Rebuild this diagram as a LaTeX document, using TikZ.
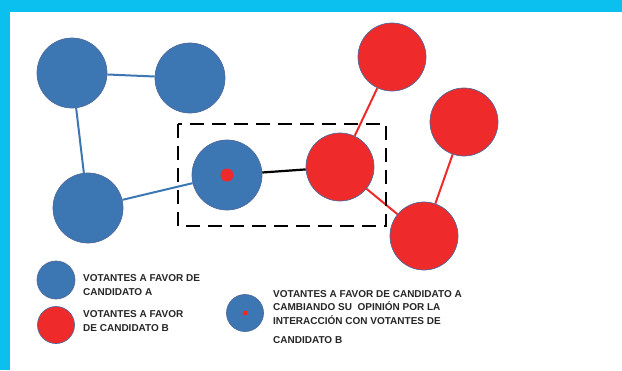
\documentclass[tikz,border=0pt]{standalone}
\usepackage{fontspec}
\setmainfont{Liberation Sans}
\usetikzlibrary{backgrounds}
\definecolor{cyanband}{HTML}{0BBFEF}
\definecolor{votblue}{HTML}{3C77B3}
\definecolor{votred}{HTML}{EE2A2A}
\definecolor{rim}{HTML}{4F6A9C}
\definecolor{txt}{HTML}{262626}
\tikzset{
  votA/.style={circle, fill=votblue, draw=rim, line width=0.7pt, minimum size=#1, inner sep=0pt},
  votB/.style={circle, fill=votred, draw=rim, line width=0.7pt, minimum size=#1, inner sep=0pt},
  dotB/.style={circle, fill=votred, minimum size=#1, inner sep=0pt},
  bluelink/.style={draw=votblue, line width=2pt},
  redlink/.style={draw=votred, line width=2pt},
  blacklink/.style={draw=black, line width=2.2pt},
  legtext/.style={anchor=north west, inner sep=0pt, align=left, text=txt,
    font=\fontsize{10}{14.5}\selectfont\bfseries},
  boxdash/.style={draw=black, line width=2.6pt, dash pattern=on 14pt off 8pt},
}
\begin{document}
\begin{tikzpicture}[x=1pt,y=-1pt]
\useasboundingbox (0,0) rectangle (622,370);
% nodes
\node[votA=70pt] (a1) at (72,73) {};
\node[votA=70pt] (a2) at (190,78) {};
\node[votA=70pt] (a3) at (88,208) {};
\node[votA=70pt] (a4) at (227,175) {};
\node[dotB=13pt] (a4dot) at (a4) {};
\node[votB=68pt] (b1) at (340,167) {};
\node[votB=68pt] (b2) at (392,57) {};
\node[votB=68pt] (b3) at (464,122) {};
\node[votB=68pt] (b4) at (424,236) {};
% dashed box
\coordinate (bx1) at (178,124);
\coordinate (bx2) at (386,226);
\draw[boxdash] (bx1) rectangle (bx2);
% legend
\node[votA=38pt] (la) at (56,280) {};
\node[votB=37pt] (lb) at (56,325) {};
\node[votA=37pt] (lc) at (245,313) {};
\node[dotB=5pt] (lcdot) at (lc) {};
\node[legtext] (ta) at (83,274) {VOTANTES A FAVOR DE\\CANDIDATO A};
\node[legtext] (tb) at (83,310) {VOTANTES A FAVOR\\DE CANDIDATO B};
\node[legtext, font=\fontsize{10}{13.5}\selectfont\bfseries] (tc) at (273,290)
  {VOTANTES A FAVOR DE CANDIDATO A\\CAMBIANDO SU\ \ OPINIÓN POR LA\\INTERACCIÓN CON VOTANTES DE\\[6pt]CANDIDATO B};
% background and links
\begin{scope}[on background layer]
\fill[cyanband] (0,0) rectangle (622,370);
\fill[white] (10,12) rectangle (622,370);
\draw[bluelink] (a1) -- (a2);
\draw[bluelink] (a1) -- (a3);
\draw[bluelink] (a3) -- (a4);
\draw[blacklink] (a4) -- (b1);
\draw[redlink] (b1) -- (b2);
\draw[redlink] (b1) -- (b4);
\draw[redlink] (b4) -- (b3);
\end{scope}
\end{tikzpicture}
\end{document}
